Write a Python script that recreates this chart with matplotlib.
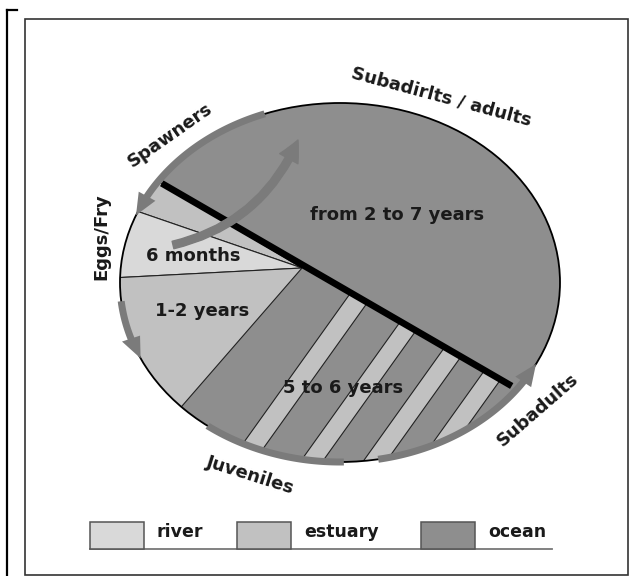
import numpy as np
import matplotlib
matplotlib.use("Agg")
import matplotlib.pyplot as plt
from matplotlib.patches import Ellipse, Polygon, Rectangle, FancyArrowPatch, ArrowStyle

# habitats (legend) and their grey shades
habitats = ["river", "estuary", "ocean"]
habitat_colors = ["#d9d9d9", "#c1c1c1", "#8e8e8e"]
arrow_color = "#7b7b7b"

# life stages around the cycle and time spent in each part
stage_labels = ["Subadirlts / adults", "Spawners", "Eggs/Fry", "Juveniles", "Subadults"]
duration_labels = ["from 2 to 7 years", "6 months", "1-2 years", "5 to 6 years"]

# wedges below the divide: ray angles (deg, image coords) and habitat of each wedge
wedge_rays = [211, 199, 177, 131]
wedge_habitat = ["estuary", "river", "estuary"]

# juvenile years: estuary stripes between ocean bands (x where they meet the divide)
stripe_start = [350.7, 400.4, 444.7, 484.6]
stripe_end = [367.5, 416.0, 461.0, 500.6]
stripe_slope = -1.40

# migration arrows along the rim (ellipse angle in deg, start, end, head?)
rim_arrows = [(110, 158, True), (186, 205, True), (233, 271, False), (280, 333, True)]

cx, cy, ea, eb = 340, 282.5, 220, 179.5
C = np.array([302.0, 268.0])
P1 = np.array([161.7, 183.3])
P2 = np.array([511.7, 386.0])
col = dict(zip(habitats, habitat_colors))

fig = plt.figure(figsize=(6.32, 5.76), dpi=100)
ax = fig.add_axes([0, 0, 1, 1])
ax.set_xlim(0, 632)
ax.set_ylim(576, 0)
ax.axis("off")

# frames
ax.add_patch(Rectangle((25, 19), 603, 556, fill=False, ec="#333333", lw=1.2))
ax.plot([7, 7], [10, 576], color="black", lw=1.6)
ax.plot([7, 17], [10, 10], color="black", lw=1.6)

ell = Ellipse((cx, cy), 2 * ea, 2 * eb, fc=col["ocean"], ec="none", zorder=1)
ax.add_patch(ell)


def ray(deg, r=600):
    a = np.radians(deg)
    return C + r * np.array([np.cos(a), np.sin(a)])


for i, hab in enumerate(wedge_habitat):
    p = Polygon([C, ray(wedge_rays[i]), ray(wedge_rays[i + 1])], closed=True,
                fc=col[hab], ec="#222222", lw=0.8, zorder=2)
    ax.add_patch(p)
    p.set_clip_path(ell)

s = (P2[1] - P1[1]) / (P2[0] - P1[0])
d = np.array([-1.0, -stripe_slope])
d = d / np.hypot(*d)
for xa, xb in zip(stripe_start, stripe_end):
    A = np.array([xa, P1[1] + s * (xa - P1[0])])
    B = np.array([xb, P1[1] + s * (xb - P1[0])])
    p = Polygon([A, B, B + 300 * d, A + 300 * d], closed=True,
                fc=col["estuary"], ec="#222222", lw=0.8, zorder=2)
    ax.add_patch(p)
    p.set_clip_path(ell)

# divide between freshwater/estuary and ocean
ax.plot([P1[0], P2[0]], [P1[1], P2[1]], color="black", lw=4.8,
        solid_capstyle="butt", zorder=4)
ax.add_patch(Ellipse((cx, cy), 2 * ea, 2 * eb, fc="none", ec="black", lw=1.3, zorder=4))


def ell_pt(t, off=0.0):
    r = np.radians(t)
    return (cx + (ea + off) * np.cos(r), cy - (eb + off) * np.sin(r))


def rim_arrow(t1, t2, head, width=7, head_len=22, head_w=19):
    ts = np.linspace(t1, t2, 300)
    tb = t2
    if head:
        pts = np.array([ell_pt(t) for t in ts])
        cum = np.concatenate([[0], np.cumsum(np.hypot(*np.diff(pts, axis=0).T))])
        tb = np.interp(cum[-1] - head_len, cum, ts)
    body = np.linspace(t1, tb, 150)
    verts = [ell_pt(t, width / 2) for t in body]
    if head:
        verts += [ell_pt(tb, head_w / 2), ell_pt(t2), ell_pt(tb, -head_w / 2)]
    verts += [ell_pt(t, -width / 2) for t in body[::-1]]
    ax.add_patch(Polygon(verts, closed=True, fc=arrow_color, ec="none", zorder=5))


for t1, t2, head in rim_arrows:
    rim_arrow(t1, t2, head)

# spawners returning to the ocean
ax.add_patch(FancyArrowPatch((173, 245), (298, 140), connectionstyle="arc3,rad=0.25",
                             arrowstyle=ArrowStyle.Simple(head_length=15, head_width=15,
                                                          tail_width=5.5),
                             mutation_scale=1, color=arrow_color, shrinkA=0, shrinkB=0,
                             zorder=6))

tkw = dict(fontsize=13, fontweight="bold", family="DejaVu Sans", color="#1a1a1a",
           ha="center", va="center", rotation_mode="anchor", zorder=7)
stage_pos = [(441, 97, -15), (170, 135, 35), (101, 237, 90), (250, 475, -17.5), (538, 410, 41)]
for lab, (x, y, r) in zip(stage_labels, stage_pos):
    ax.text(x, y, lab, rotation=r, **tkw)
dur_pos = [(397, 215), (193, 256), (202, 311), (343, 388)]
for lab, (x, y) in zip(duration_labels, dur_pos):
    ax.text(x, y, lab, **tkw)

# legend
box_x = [90, 237, 421]
for hab, c, x in zip(habitats, habitat_colors, box_x):
    ax.add_patch(Rectangle((x, 522), 54, 27, fc=c, ec="#555555", lw=1.1, zorder=3))
    ax.text(x + 67, 532, hab, fontsize=12.5, fontweight="bold", family="DejaVu Sans",
            color="#1a1a1a", ha="left", va="center")
ax.plot([90, 552], [549, 549], color="#777777", lw=1.3, zorder=2)

fig.savefig("out.png", dpi=100)
